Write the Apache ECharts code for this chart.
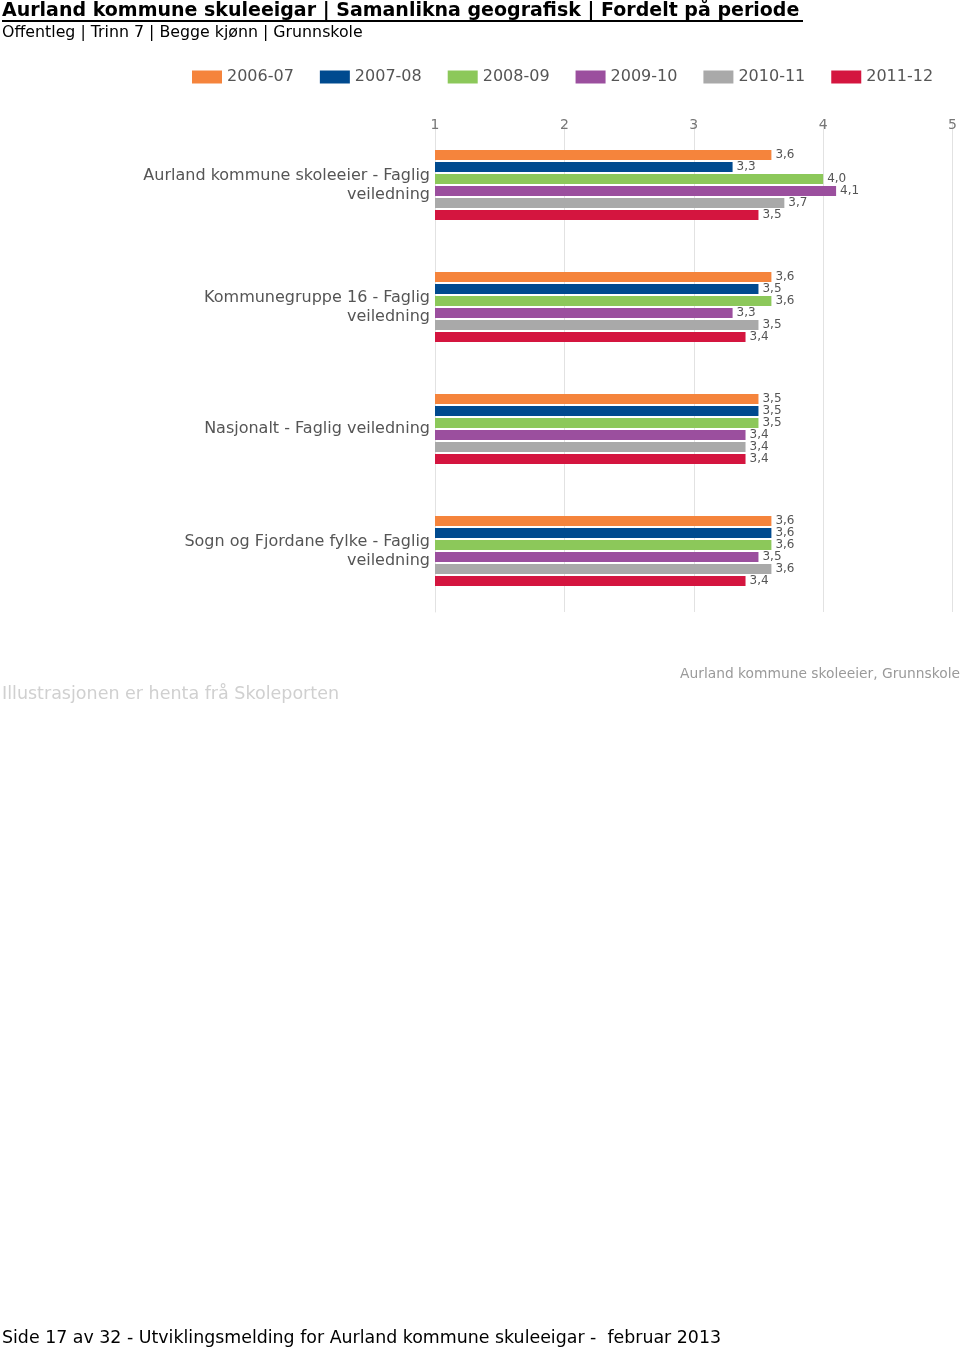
<!DOCTYPE html>
<html><head><meta charset="utf-8">
<script src="https://cdn.jsdelivr.net/npm/echarts@6/dist/echarts.min.js"></script>
<style>html,body{margin:0;padding:0;background:#fff}#c{width:960px;height:1351px}</style>
</head><body><div id="c"></div>
<script>
const categories = [
  "Aurland kommune skoleeier - Faglig\nveiledning",
  "Kommunegruppe 16 - Faglig\nveiledning",
  "Nasjonalt - Faglig veiledning",
  "Sogn og Fjordane fylke - Faglig\nveiledning"
];
const periods = ["2006-07", "2007-08", "2008-09", "2009-10", "2010-11", "2011-12"];
const v2006_07 = [3.6, 3.6, 3.5, 3.6];
const v2007_08 = [3.3, 3.5, 3.5, 3.6];
const v2008_09 = [4.0, 3.6, 3.5, 3.6];
const v2009_10 = [4.1, 3.3, 3.4, 3.5];
const v2010_11 = [3.7, 3.5, 3.4, 3.6];
const v2011_12 = [3.5, 3.4, 3.4, 3.4];
const xTicks = [1, 2, 3, 4, 5];
const colors = ["#F5843C", "#004A8F", "#8CC85A", "#9B4F9E", "#A9A9A9", "#D4153F"];
const seriesValues = [v2006_07, v2007_08, v2008_09, v2009_10, v2010_11, v2011_12];

const font = "DejaVu Sans, Verdana, sans-serif";
const chart = echarts.init(document.getElementById('c'), null, {renderer: 'canvas'});
chart.setOption({
  animation: false,
  backgroundColor: '#fff',
  title: [
    {text: "Aurland kommune skuleeigar | Samanlikna geografisk | Fordelt på periode", left: 2, top: 2, padding: 0,
     textStyle: {fontFamily: font, fontSize: 19, fontWeight: 'bold', color: '#000'}},
    {text: "Offentleg | Trinn 7 | Begge kjønn | Grunnskole", left: 2, top: 25, padding: 0,
     textStyle: {fontFamily: font, fontSize: 15.8, fontWeight: 'normal', color: '#000'}},
    {text: "Aurland kommune skoleeier, Grunnskole", right: 0, top: 667, padding: 0,
     textStyle: {fontFamily: font, fontSize: 13.8, fontWeight: 'normal', color: '#9a9a9a'}},
    {text: "Illustrasjonen er henta frå Skoleporten", left: 2, top: 685, padding: 0,
     textStyle: {fontFamily: font, fontSize: 17.5, fontWeight: 'normal', color: '#d0d0d0'}},
    {text: "Side 17 av 32 - Utviklingsmelding for Aurland kommune skuleeigar -  februar 2013", left: 2, top: 1330, padding: 0,
     textStyle: {fontFamily: font, fontSize: 17.4, fontWeight: 'normal', color: '#000'}}
  ],
  graphic: [
    {type: 'line', shape: {x1: 2, y1: 21, x2: 803, y2: 21}, style: {stroke: '#000', lineWidth: 2}}
  ],
  color: colors,
  legend: {
    data: periods, top: 69, left: 192, padding: 0, itemWidth: 30, itemHeight: 13, itemGap: 26,
    icon: 'rect',
    textStyle: {fontFamily: font, fontSize: 16, color: '#555'}
  },
  grid: {left: 435, right: 7, top: 124, height: 488, containLabel: false},
  xAxis: {
    type: 'value', position: 'top', min: 1, max: 5, interval: 1, offset: -10,
    axisLine: {show: false}, axisTick: {show: false},
    axisLabel: {fontFamily: font, fontSize: 14, color: '#777', margin: 2,
      formatter: v => xTicks.includes(v) ? String(v) : ''},
    splitLine: {show: true, lineStyle: {color: '#e2e2e2', width: 1}}
  },
  yAxis: {
    type: 'category', data: categories, inverse: true,
    axisLine: {show: true, lineStyle: {color: '#e2e2e2'}}, axisTick: {show: false},
    axisLabel: {fontFamily: font, fontSize: 16, color: '#555', margin: 5, align: 'right', lineHeight: 19}
  },
  series: seriesValues.map((vals, i) => ({
    name: periods[i], type: 'bar', data: vals, barWidth: 10, barGap: '20%',
    itemStyle: {color: colors[i]},
    label: {show: true, position: 'right', distance: 4, fontFamily: font, fontSize: 12, color: '#555',
      formatter: p => p.value.toFixed(1).replace('.', ',')}
  }))
});
</script></body></html>
